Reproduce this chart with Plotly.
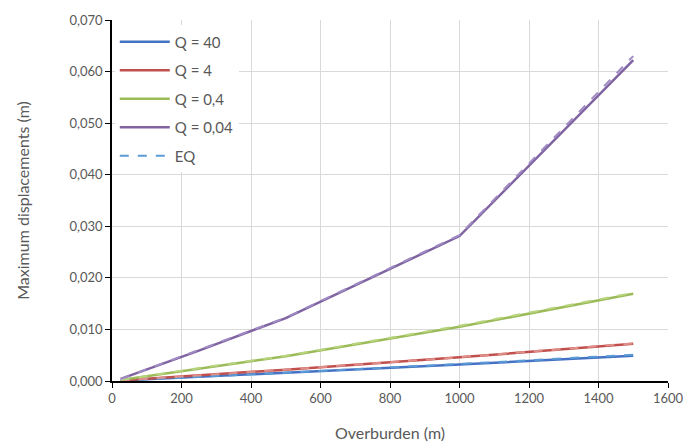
import plotly.graph_objects as go

overburden = [25, 250, 500, 1000, 1500]

q40 = [0.0001, 0.0008, 0.0015, 0.0032, 0.0049]
q4 = [0.0001, 0.0011, 0.0022, 0.0046, 0.0072]
q04 = [0.0002, 0.0024, 0.0048, 0.0105, 0.0169]
q004 = [0.0004, 0.0059, 0.0122, 0.0281, 0.0622]

eq40 = [0.0001, 0.0008, 0.0016, 0.0033, 0.0051]
eq4 = [0.0001, 0.0011, 0.0022, 0.0046, 0.0073]
eq04 = [0.0002, 0.0025, 0.0049, 0.0107, 0.0171]
eq004 = [0.0004, 0.0060, 0.0123, 0.0283, 0.0630]

series = [
    ("Q = 40", q40, "#4472C4"),
    ("Q = 4", q4, "#C0504D"),
    ("Q = 0,4", q04, "#9BBB59"),
    ("Q = 0,04", q004, "#8064A2"),
]
eq_series = [
    (eq40, "#5B9BD5"),
    (eq4, "#E08E8A"),
    (eq04, "#B8D47E"),
    (eq004, "#A08CC4"),
]

fig = go.Figure()
for i, (name, ys, col) in enumerate(series):
    fig.add_trace(go.Scatter(x=overburden, y=ys, mode="lines", name=name,
                             legendgroup=f"g{i}",
                             line=dict(color=col, width=2.5)))
for i, (ys, col) in enumerate(eq_series):
    fig.add_trace(go.Scatter(x=overburden, y=ys, mode="lines", name="EQ",
                             legendgroup="eq", showlegend=(i == 0),
                             line=dict(color=col, width=2, dash="dash")))

font = "Lato, Open Sans, sans-serif"
fig.update_layout(
    width=695, height=444,
    margin=dict(l=112, r=27, t=20, b=63),
    plot_bgcolor="white", paper_bgcolor="white",
    separators=", ",
    font=dict(family=font, color="#595959", size=13),
    showlegend=True,
    legend=dict(x=0.005, y=0.985, xanchor="left", yanchor="top",
                bgcolor="rgba(255,255,255,1)", font=dict(size=15, color="#595959"),
                tracegroupgap=6, itemwidth=50),
    xaxis=dict(range=[0, 1600], dtick=200, tickformat="d", automargin=False,
               showgrid=True, gridcolor="#D9D9D9", gridwidth=1,
               showline=True, linecolor="black", linewidth=1.5,
               ticks="outside", ticklen=5, tickcolor="black",
               zeroline=False,
               title=dict(text="Overburden (m)", font=dict(size=16, color="#595959"), standoff=22),
               tickfont=dict(size=13, color="#595959")),
    yaxis=dict(range=[0, 0.07], dtick=0.01, tickformat=".3f", automargin=False,
               showgrid=True, gridcolor="#D9D9D9", gridwidth=1,
               showline=True, linecolor="black", linewidth=1.5,
               ticks="outside", ticklen=5, tickcolor="black",
               zeroline=False,
               title=dict(text="Maximum displacements (m)", font=dict(size=16, color="#595959"), standoff=36),
               tickfont=dict(size=13, color="#595959")),
)

fig.write_html("out.html")
